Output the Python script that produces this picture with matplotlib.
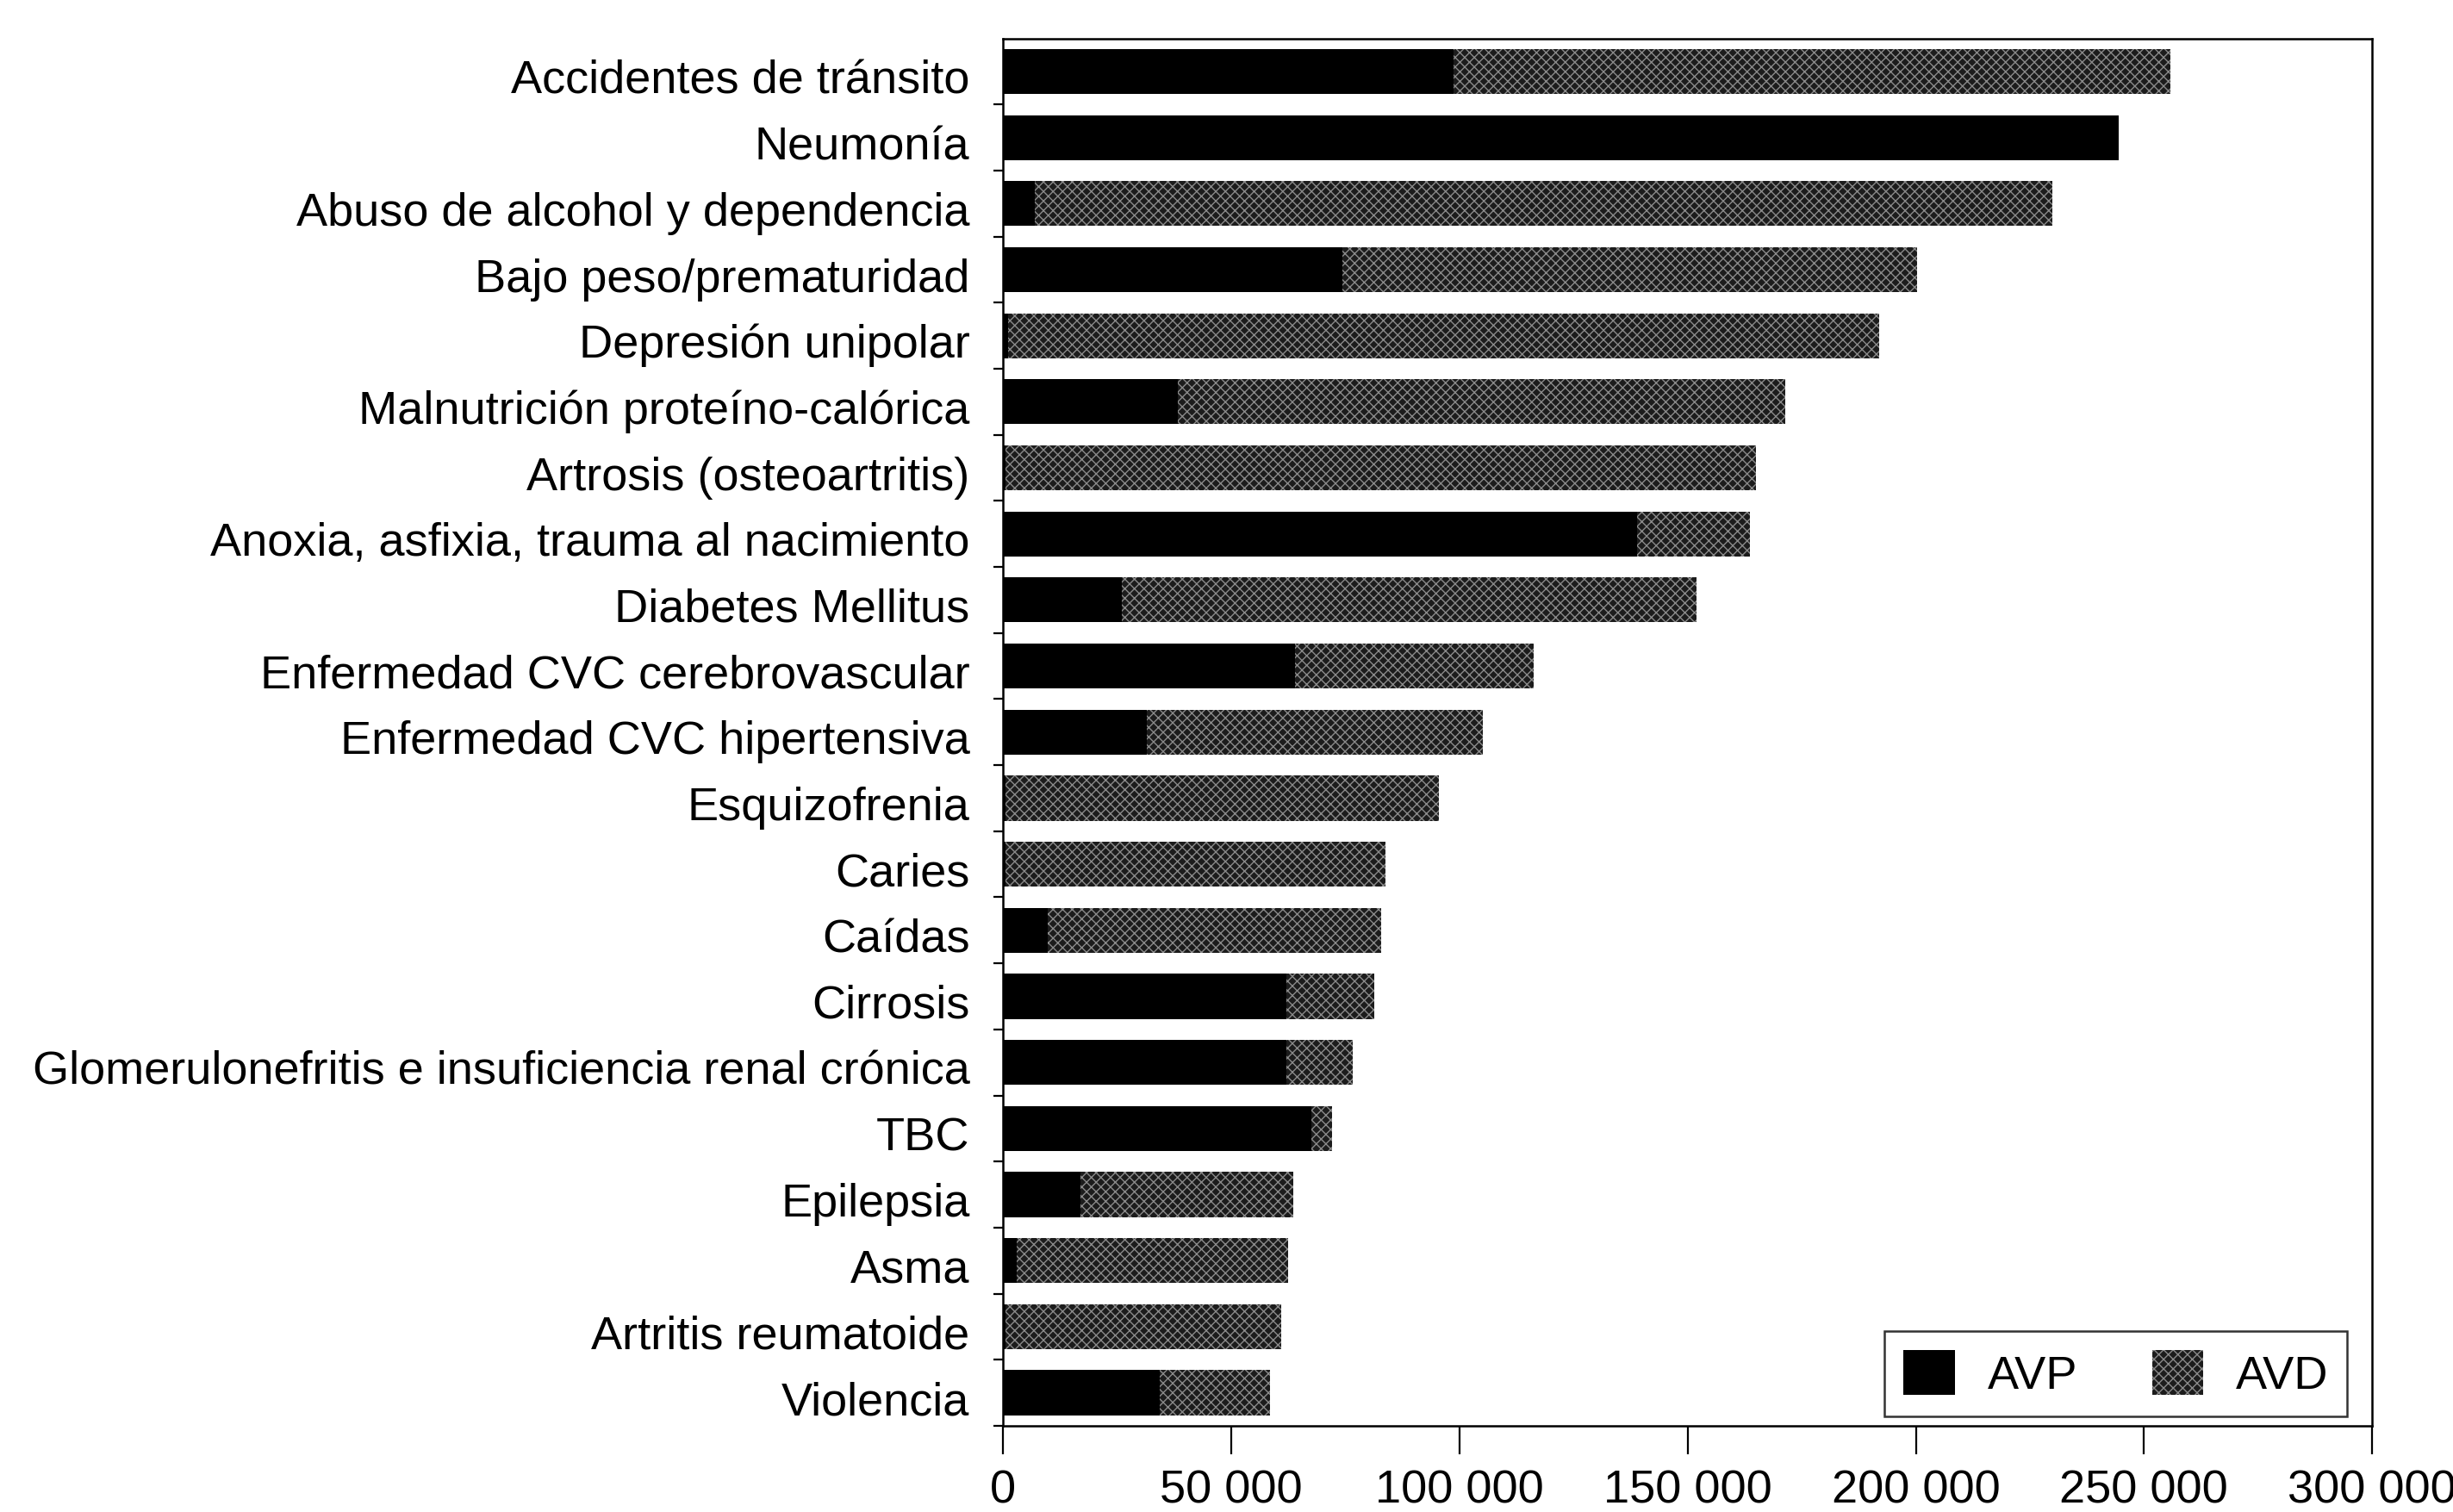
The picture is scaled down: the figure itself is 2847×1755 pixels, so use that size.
import matplotlib
matplotlib.use("Agg")
import matplotlib.pyplot as plt
import matplotlib.transforms as mtransforms
from matplotlib.ticker import FuncFormatter, FixedLocator
import numpy as np

categories = [
    "Accidentes de tránsito",
    "Neumonía",
    "Abuso de alcohol y dependencia",
    "Bajo peso/prematuridad",
    "Depresión unipolar",
    "Malnutrición proteíno-calórica",
    "Artrosis (osteoartritis)",
    "Anoxia, asfixia, trauma al nacimiento",
    "Diabetes Mellitus",
    "Enfermedad CVC cerebrovascular",
    "Enfermedad CVC hipertensiva",
    "Esquizofrenia",
    "Caries",
    "Caídas",
    "Cirrosis",
    "Glomerulonefritis e insuficiencia renal crónica",
    "TBC",
    "Epilepsia",
    "Asma",
    "Artritis reumatoide",
    "Violencia",
]
avp = [98600, 244500, 7000, 74400, 1000, 38300, 500, 138900, 26000, 63900,
       31400, 500, 500, 9800, 62000, 62000, 67600, 17000, 3000, 500, 34200]
total = [255800, 244500, 230000, 200200, 192000, 171400, 165000, 163600, 152000, 116300,
         105100, 95500, 83800, 82900, 81400, 76600, 72000, 63600, 62500, 60900, 58500]
avd = [t - p for t, p in zip(total, avp)]
xticks = [0, 50000, 100000, 150000, 200000, 250000, 300000]

plt.rcParams['font.family'] = ['Liberation Sans', 'DejaVu Sans']
plt.rcParams['hatch.linewidth'] = 1.0

fig = plt.figure(figsize=(28.47, 17.56), dpi=100)
ax = fig.add_axes([0.409, 0.057, 0.558, 0.917])

y = np.arange(len(categories))
h = 0.68
ax.barh(y, avp, height=h, color='black', edgecolor='black', linewidth=0, label='AVP')
ax.barh(y, avd, left=avp, height=h, color='#1c1c1c', edgecolor='#8a8a8a',
        hatch='///\\\\\\', linewidth=0, label='AVD')

ax.set_xlim(0, 300000)
ax.set_ylim(len(categories) - 0.5, -0.5)

ax.set_xticks(xticks)
ax.xaxis.set_major_formatter(FuncFormatter(lambda v, p: f"{int(v):,}".replace(",", " ")))
ax.tick_params(axis='x', direction='out', length=24, width=1.6, pad=12, labelsize=39)

ax.set_yticks(y)
ax.set_yticklabels(categories)
ax.yaxis.set_minor_locator(FixedLocator(np.arange(len(categories)) + 0.5))
ax.tick_params(axis='y', which='major', length=0, pad=28, labelsize=39)
ax.tick_params(axis='y', which='minor', direction='out', length=8, width=1.6)
offset = mtransforms.ScaledTranslation(0, -5 / 100, fig.dpi_scale_trans)
for lbl in ax.get_yticklabels():
    lbl.set_transform(lbl.get_transform() + offset)

for s in ax.spines.values():
    s.set_linewidth(1.8)

leg = ax.legend(loc='lower right', ncol=2, fontsize=39, frameon=True, fancybox=False,
                edgecolor='black', handlelength=1.1, handleheight=1.1, handletextpad=0.7,
                columnspacing=1.6, borderpad=0.4, borderaxespad=0,
                bbox_to_anchor=(0.982, 0.007))
leg.get_frame().set_linewidth(1.8)

fig.savefig("out.png", dpi=100, facecolor='white')
